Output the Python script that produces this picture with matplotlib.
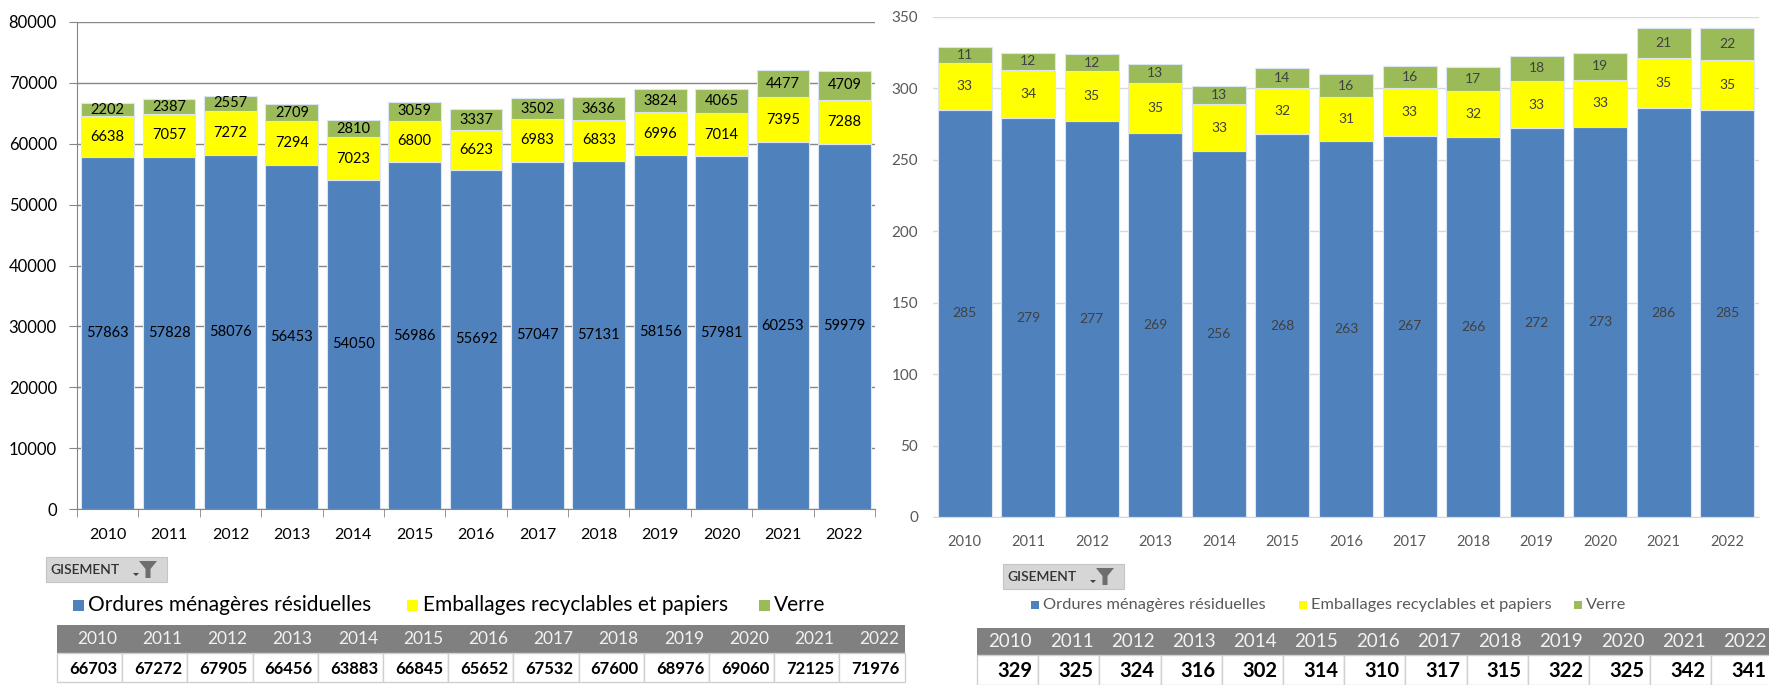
import numpy as np
import matplotlib.pyplot as plt
from matplotlib.patches import Rectangle, Polygon

plt.rcParams['font.family'] = ['Lato', 'DejaVu Sans']

# data
years = ['2010', '2011', '2012', '2013', '2014', '2015', '2016',
         '2017', '2018', '2019', '2020', '2021', '2022']
series_names = ['Ordures ménagères résiduelles',
                'Emballages recyclables et papiers', 'Verre']

# tonnes
omr_t = [57863, 57828, 58076, 56453, 54050, 56986, 55692,
         57047, 57131, 58156, 57981, 60253, 59979]
emb_t = [6638, 7057, 7272, 7294, 7023, 6800, 6623,
         6983, 6833, 6996, 7014, 7395, 7288]
verre_t = [2202, 2387, 2557, 2709, 2810, 3059, 3337,
           3502, 3636, 3824, 4065, 4477, 4709]
total_t = [66703, 67272, 67905, 66456, 63883, 66845, 65652,
           67532, 67600, 68976, 69060, 72125, 71976]

# kg / habitant
omr_h = [285, 279, 277, 269, 256, 268, 263, 267, 266, 272, 273, 286, 285]
emb_h = [33, 34, 35, 35, 33, 32, 31, 33, 32, 33, 33, 35, 35]
verre_h = [11, 12, 12, 13, 13, 14, 16, 16, 17, 18, 19, 21, 22]
total_h = [329, 325, 324, 316, 302, 314, 310, 317, 315, 322, 325, 342, 341]

BLUE = '#4F81BD'
YELLOW = '#FFFF00'
GREEN = '#9BBB59'
colors = [BLUE, YELLOW, GREEN]

W, H = 1769, 685
fig = plt.figure(figsize=(W / 100, H / 100), dpi=100)


def px_axes(x0, y0, x1, y1):
    return fig.add_axes([x0 / W, 1 - y1 / H, (x1 - x0) / W, (y1 - y0) / H])


x = np.arange(len(years))

# ---- left chart (tonnes)
ax1 = px_axes(77, 22, 875, 509)
bottom = np.zeros(len(years))
for vals, col in zip([omr_t, emb_t, verre_t], colors):
    bars = ax1.bar(x, vals, 0.86, bottom=bottom, color=col,
                   edgecolor='#DCE6F2', linewidth=0.8, zorder=2)
    ax1.bar_label(bars, labels=[str(v) for v in vals], label_type='center',
                  fontsize=10.5, color='black')
    bottom += vals
ax1.set_xlim(-0.5, len(years) - 0.5)
ax1.set_ylim(0, 80000)
ax1.set_yticks(range(0, 80001, 10000))
ax1.yaxis.grid(True, color='#868686', linewidth=1)
ax1.set_axisbelow(True)
for s in ['top', 'right']:
    ax1.spines[s].set_visible(False)
for s in ['left', 'bottom']:
    ax1.spines[s].set_color('#868686')
ax1.set_xticks(x)
ax1.set_xticklabels(years)
ax1.set_xticks(np.arange(-0.5, len(years)), minor=True)
ax1.tick_params(axis='x', which='major', length=0, pad=13.5, labelsize=11.5)
ax1.tick_params(axis='x', which='minor', length=6, color='#868686')
ax1.tick_params(axis='y', length=6, color='#868686', pad=8.5, labelsize=12)

# ---- right chart (kg/hab)
ax2 = px_axes(933, 17, 1759, 517)
bottom = np.zeros(len(years))
for vals, col in zip([omr_h, emb_h, verre_h], colors):
    bars = ax2.bar(x, vals, 0.85, bottom=bottom, color=col,
                   edgecolor='#DCE6F2', linewidth=0.8, zorder=2)
    ax2.bar_label(bars, labels=[str(v) for v in vals], label_type='center',
                  fontsize=10, color='#404040')
    bottom += vals
ax2.set_xlim(-0.5, len(years) - 0.5)
ax2.set_ylim(0, 350)
ax2.set_yticks(range(0, 351, 50))
ax2.yaxis.grid(True, color='#D9D9D9', linewidth=1)
ax2.set_axisbelow(True)
for s in ['top', 'right', 'left']:
    ax2.spines[s].set_visible(False)
ax2.spines['bottom'].set_color('#D9D9D9')
ax2.set_xticks(x)
ax2.set_xticklabels(years)
ax2.tick_params(axis='x', length=0, pad=13, labelsize=10.5, labelcolor='#595959')
ax2.tick_params(axis='y', length=0, pad=10.8, labelsize=11, labelcolor='#595959')

# ---- overlay: filter buttons, legends, tables
ov = fig.add_axes([0, 0, 1, 1])
ov.set_xlim(0, W)
ov.set_ylim(H, 0)
ov.axis('off')


def button(x0, y0, w, h):
    ov.add_patch(Rectangle((x0, y0), w, h, facecolor='#D6D6D6',
                           edgecolor='#C4C4C4', linewidth=0.8))
    ov.text(x0 + 4, y0 + h / 2 + 0.5, 'GISEMENT', fontsize=10, fontweight='semibold',
            color='#333333', va='center', ha='left')
    fx = x0 + w - 19
    fy = y0 + 4
    ov.add_patch(Polygon([(fx - 9, fy), (fx + 9, fy), (fx + 2.5, fy + 8),
                          (fx + 2.5, fy + 17), (fx - 2.5, fy + 17), (fx - 2.5, fy + 8)],
                         closed=True, facecolor='#6E6E6E', edgecolor='none'))
    ov.add_patch(Polygon([(fx - 15, fy + 12), (fx - 9, fy + 12), (fx - 12, fy + 15)],
                         closed=True, facecolor='#404040', edgecolor='none'))


def legend(y, items, size, color, msize):
    for (mx, tx), name, col in zip(items, series_names, colors):
        ov.add_patch(Rectangle((mx, y - msize / 2), msize, msize,
                               facecolor=col, edgecolor='none'))
        ov.text(tx, y, name, fontsize=size, color=color, va='center', ha='left')


def table(x0, widths, y0, hh, dh, head, vals, hsize, dsize, pad):
    edges = np.concatenate([[x0], x0 + np.cumsum(widths)])
    ov.add_patch(Rectangle((x0, y0), edges[-1] - x0, hh, facecolor='#808080',
                           edgecolor='none'))
    for i, (h_, v) in enumerate(zip(head, vals)):
        left, right = edges[i], edges[i + 1]
        ov.add_patch(Rectangle((left, y0 + hh), right - left, dh,
                               facecolor='white', edgecolor='#D0D0D0', linewidth=1))
        ov.text(right - pad, y0 + hh / 2, h_, fontsize=hsize, color='#F2F2F2',
                ha='right', va='center')
        ov.text(right - pad, y0 + hh + dh / 2 + 1, str(v), fontsize=dsize,
                fontweight='bold', color='black', ha='right', va='center')


button(46, 557, 121, 25)
button(1003, 564, 121, 25)
legend(605, [(73, 88), (407, 423), (759, 774)], 15, 'black', 11)
legend(605, [(1031, 1043), (1299, 1311), (1574, 1586)], 11.8, '#595959', 8)
table(57, [65.2] * 13, 625, 28, 29, years, total_t, 12.5, 12, 5)
table(977, [61.2] * 13, 628, 27, 30, years, total_h, 13.5, 14.5, 6)

fig.savefig('out.png', dpi=100)
